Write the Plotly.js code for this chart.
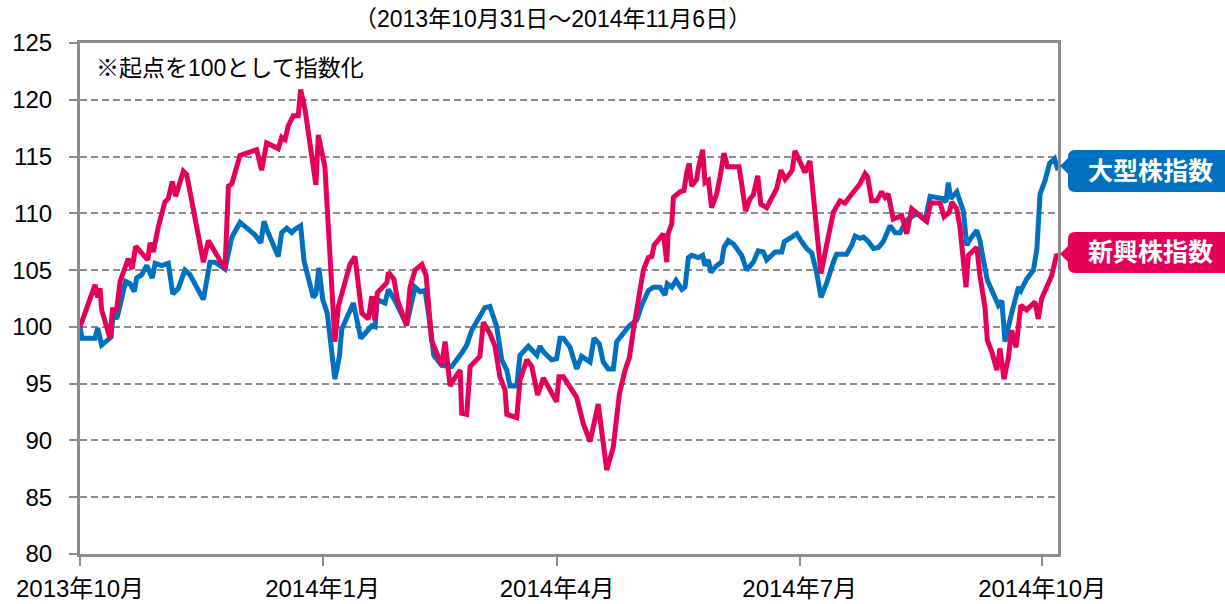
<!DOCTYPE html>
<html>
<head>
<meta charset="utf-8">
<script src="https://cdn.plot.ly/plotly-3.0.1.min.js"></script>
<style>html,body{margin:0;padding:0;background:#ffffff;}</style>
</head>
<body>
<div id="chart" style="width:1225px;height:604px;"></div>
<script>
// ---- Data (x = days since 2013-10-31, y = index, start = 100) ----
const periodTitle = '（2013年10月31日～2014年11月6日）';
const noteText = '※起点を100として指数化';
const seriesNames = ['大型株指数', '新興株指数'];
const tickDays = [0, 92, 181, 273, 365];
const tickLabels = ['2013年10月', '2014年1月', '2014年4月', '2014年7月', '2014年10月'];

const largeCap = [
  [0,100.0],[0.8,99.0],[5.7,99.0],[6.7,99.9],[8.2,98.4],[10.1,98.8],[11.8,99.1],[12.6,101.2],[13.9,100.7],[14.8,101.5],
  [17.3,104.0],[19.0,103.8],[20.6,103.1],[21.5,104.3],[23.4,104.6],[25.3,105.4],[27.4,104.3],[28.5,105.6],[31.0,105.4],[33.5,105.6],
  [35.2,102.9],[37.3,103.4],[39.8,105.0],[41.7,104.6],[46.8,102.4],[49.3,105.7],[51.2,105.7],[55.0,105.1],[57.6,107.9],[60.7,109.2],
  [66.4,108.1],[68.6,107.4],[69.8,109.3],[70.8,108.6],[75.2,106.2],[76.5,108.3],[78.4,108.7],[80.3,108.3],[81.6,108.6],[83.7,108.9],
  [85.0,105.8],[88.5,102.6],[89.5,102.9],[90.6,105.2],[92.1,102.4],[93.8,101.2],[96.7,95.4],[98.4,97.4],[99.3,99.8],[103.7,102.1],
  [106.5,99.0],[110.7,100.1],[111.9,100.0],[112.8,102.4],[115.7,102.1],[117.0,103.3],[119.5,102.3],[123.9,100.2],[125.2,101.5],[127.1,103.5],
  [129.0,103.1],[130.9,103.2],[132.2,101.2],[134.2,97.5],[137.2,96.6],[141.0,96.5],[144.8,97.7],[146.7,98.4],[148.6,99.7],[151.1,100.6],
  [153.6,101.7],[155.5,101.8],[158.1,100.0],[160.0,97.1],[161.9,96.2],[163.1,94.8],[165.7,94.8],[166.9,97.5],[170.1,98.3],[173.3,97.5],
  [174.5,98.3],[175.8,97.8],[178.9,97.1],[180.8,97.2],[182.1,99.0],[183.4,99.0],[185.9,98.2],[188.4,96.3],[190.3,97.4],[193.5,96.9],
  [195.0,99.0],[197.0,98.5],[198.5,96.9],[200.4,96.3],[202.3,96.3],[203.6,98.7],[206.1,99.4],[208.4,100.1],[211.2,100.6],[213.1,101.9],
  [215.6,103.2],[217.5,103.5],[220.0,103.5],[221.9,102.8],[222.8,103.8],[224.5,103.5],[226.1,104.1],[228.3,103.3],[229.5,103.5],[230.8,106.1],
  [232.0,106.3],[234.6,106.1],[236.2,106.3],[237.1,105.4],[238.4,105.9],[239.3,104.8],[241.5,105.4],[243.4,105.7],[244.3,107.0],[245.9,107.6],
  [247.9,107.3],[251.0,106.3],[252.9,105.0],[255.4,105.7],[257.3,106.7],[259.2,106.6],[260.5,105.9],[263.7,106.6],[266.2,106.6],[267.2,107.5],
  [270.0,107.9],[271.9,108.2],[273.8,107.5],[275.7,106.9],[277.6,106.5],[279.5,104.7],[281.1,102.6],[283.3,103.9],[285.8,105.7],[287.0,106.4],
  [290.8,106.4],[292.8,107.2],[294.0,108.0],[295.9,107.8],[297.2,107.9],[299.1,107.5],[301.0,106.9],[302.9,107.0],[304.7,107.5],[307.3,108.9],
  [309.2,108.3],[311.1,108.3],[313.6,109.4],[317.4,110.0],[320.6,109.4],[322.5,111.5],[327.3,111.3],[328.5,111.0],[329.4,112.7],[330.3,111.3],
  [332.6,111.9],[335.1,110.2],[336.4,107.2],[337.9,107.8],[340.2,108.5],[341.4,107.6],[342.6,106.0],[344.2,104.1],[346.5,102.9],[348.4,101.9],
  [349.7,102.3],[350.9,98.7],[353.4,101.2],[355.1,102.6],[356.0,103.5],[356.9,103.2],[359.1,104.2],[361.7,105.0],[363.0,106.9],[364.2,111.7],
  [366.1,112.9],[367.8,114.4],[369.7,114.8],[371.0,113.8]
];

const emerging = [
  [0,100.0],[5.7,103.7],[6.7,102.6],[7.6,103.4],[8.2,101.5],[11.4,99.0],[12.3,101.5],[13.9,101.5],[15.2,104.0],[18.3,106.0],
  [19.8,105.1],[21.1,107.1],[25.7,105.9],[26.6,107.4],[27.8,106.6],[29.7,108.8],[32.2,111.0],[33.5,111.3],[35.0,112.8],[36.3,111.5],
  [39.2,113.7],[40.5,113.4],[46.8,105.7],[48.7,107.6],[55.0,105.1],[56.3,112.4],[57.6,112.6],[60.7,115.1],[67.0,115.6],[68.9,113.8],
  [70.8,116.2],[75.2,115.7],[76.5,116.7],[77.8,116.5],[79.0,117.7],[80.9,118.6],[82.8,118.6],[83.7,120.9],[85.4,119.1],[89.5,112.5],
  [90.4,116.9],[92.9,114.1],[96.7,98.7],[98.0,101.8],[102.4,105.5],[104.3,106.2],[106.9,101.2],[109.4,100.7],[110.7,102.7],[111.9,100.6],
  [112.8,103.0],[116.4,103.9],[117.0,104.8],[119.1,104.2],[120.4,102.4],[123.9,100.1],[125.2,103.5],[127.1,105.0],[129.7,105.5],[131.3,104.5],
  [133.4,98.8],[135.3,97.8],[137.2,96.6],[138.5,98.7],[140.4,94.8],[141.6,95.3],[144.2,96.2],[144.8,92.4],[146.7,92.3],[148.0,96.5],
  [150.5,97.1],[151.7,97.4],[153.0,100.4],[155.5,99.4],[157.4,98.3],[159.3,95.6],[161.2,94.5],[161.9,92.3],[165.7,92.0],[166.9,95.3],
  [169.5,97.1],[171.4,96.5],[173.6,94.0],[175.8,95.5],[178.9,94.2],[180.8,93.4],[181.7,95.6],[183.4,95.6],[185.9,94.7],[188.4,93.8],
  [190.9,91.5],[193.5,89.9],[196.6,93.2],[199.8,87.4],[202.3,89.4],[204.6,94.1],[206.8,96.2],[208.4,97.3],[209.9,99.7],[211.8,102.6],
  [213.7,105.0],[215.6,106.1],[216.9,106.2],[217.8,107.2],[219.0,107.5],[221.3,108.2],[222.6,105.7],[223.1,108.2],[224.5,109.1],[225.1,111.4],
  [227.6,111.9],[229.1,112.0],[230.2,113.6],[231.1,114.4],[232.0,112.4],[233.9,113.0],[234.5,113.9],[236.2,115.6],[237.1,112.7],[238.4,112.9],
  [239.6,110.5],[241.5,111.7],[242.8,113.2],[244.3,115.3],[245.6,114.1],[250.0,114.1],[251.0,112.6],[252.5,110.2],[254.2,111.3],[255.4,111.6],
  [257.1,113.3],[258.3,110.8],[260.5,110.5],[262.4,111.3],[264.3,112.2],[265.9,113.8],[267.5,113.0],[269.3,113.5],[270.2,113.8],[271.2,115.5],
  [273.1,114.6],[275.0,113.6],[276.9,114.6],[278.8,110.5],[281.1,104.7],[283.3,107.3],[285.8,110.1],[288.3,111.1],[290.2,110.9],[292.8,111.7],
  [294.0,112.0],[295.9,112.6],[297.8,113.5],[298.8,113.2],[300.3,111.1],[302.2,111.1],[304.1,111.9],[305.4,111.4],[306.6,111.7],[308.5,109.5],
  [311.7,109.8],[313.6,108.2],[315.5,110.4],[318.7,109.8],[321.2,109.3],[322.7,110.9],[326.3,110.9],[327.8,109.7],[329.8,110.1],[330.7,111.0],
  [332.6,110.4],[333.8,108.8],[335.1,106.1],[336.1,103.5],[337.0,106.3],[340.2,107.0],[341.4,104.5],[343.3,101.7],[344.2,98.8],[345.9,97.8],
  [347.8,96.2],[349.0,98.1],[350.5,95.4],[352.2,97.3],[353.4,99.7],[355.1,98.2],[356.9,101.9],[359.1,101.5],[362.3,102.2],[363.5,100.7],
  [364.8,102.5],[366.7,103.5],[368.6,104.5],[370.5,106.4],[371.0,106.2]
];

// ---- Styles ----
const BLUE = '#0070C0';
const PINK = '#E5005A';
const GRAY = '#8c8c8c';
const FONT = "Arial, 'Liberation Sans', 'Noto Sans CJK JP', sans-serif";

// pixel -> paper helpers for decorations (plot area 80..1058 x 43..554)
const PL = 80, PR = 1058, PT = 43, PB = 554;
const px = x => (x - PL) / (PR - PL);
const py = y => (PB - y) / (PB - PT);

function roundRect(x0, y0, x1, y1, r) {
  const P = (x, y) => px(x).toFixed(5) + ',' + py(y).toFixed(5);
  return 'M' + P(x0 + r, y0) + ' L' + P(x1 - r, y0) + ' Q' + P(x1, y0) + ' ' + P(x1, y0 + r) +
         ' L' + P(x1, y1 - r) + ' Q' + P(x1, y1) + ' ' + P(x1 - r, y1) +
         ' L' + P(x0 + r, y1) + ' Q' + P(x0, y1) + ' ' + P(x0, y1 - r) +
         ' L' + P(x0, y0 + r) + ' Q' + P(x0, y0) + ' ' + P(x0 + r, y0) + ' Z';
}
function tail(xTip, yMid, xBase, half) {
  const P = (x, y) => px(x).toFixed(5) + ',' + py(y).toFixed(5);
  return 'M' + P(xBase, yMid - half) + ' L' + P(xTip, yMid) + ' L' + P(xBase, yMid + half) + ' Z';
}

const traces = [
  {
    x: largeCap.map(p => p[0]), y: largeCap.map(p => p[1]),
    name: seriesNames[0], type: 'scatter', mode: 'lines',
    line: {color: BLUE, width: 5}, hoverinfo: 'skip'
  },
  {
    x: emerging.map(p => p[0]), y: emerging.map(p => p[1]),
    name: seriesNames[1], type: 'scatter', mode: 'lines',
    line: {color: PINK, width: 5}, hoverinfo: 'skip'
  }
];

const layout = {
  width: 1225, height: 604,
  margin: {l: PL, r: 1225 - PR, t: PT, b: 604 - PB, pad: 0},
  paper_bgcolor: '#ffffff', plot_bgcolor: '#ffffff',
  showlegend: false,
  font: {family: FONT, color: '#000000'},
  xaxis: {
    range: [0, 371], tickmode: 'array', tickvals: tickDays, ticktext: tickLabels,
    showgrid: false, zeroline: false,
    showline: true, linecolor: GRAY, linewidth: 3, mirror: true,
    ticks: 'outside', ticklen: 9, tickwidth: 2, tickcolor: GRAY,
    tickfont: {family: FONT, size: 24, color: '#000000'},
    ticklabelstandoff: 2, fixedrange: true
  },
  yaxis: {
    range: [80, 125], dtick: 5, tick0: 80,
    showgrid: true, gridcolor: GRAY, gridwidth: 2, griddash: '7px,4px',
    zeroline: false,
    showline: true, linecolor: GRAY, linewidth: 3, mirror: true,
    ticks: 'outside', ticklen: 8, tickwidth: 2, tickcolor: GRAY,
    tickfont: {family: FONT, size: 24, color: '#000000'},
    ticklabelstandoff: 12, fixedrange: true
  },
  shapes: [
    {type: 'path', xref: 'paper', yref: 'paper', path: roundRect(1068, 150, 1240, 192, 7), fillcolor: BLUE, line: {width: 0}, layer: 'above'},
    {type: 'path', xref: 'paper', yref: 'paper', path: tail(1060, 166, 1069, 9), fillcolor: BLUE, line: {width: 0}, layer: 'above'},
    {type: 'path', xref: 'paper', yref: 'paper', path: roundRect(1068, 232, 1240, 273, 7), fillcolor: PINK, line: {width: 0}, layer: 'above'},
    {type: 'path', xref: 'paper', yref: 'paper', path: tail(1060, 254, 1069, 9), fillcolor: PINK, line: {width: 0}, layer: 'above'}
  ],
  annotations: [
    {text: periodTitle, xref: 'paper', yref: 'paper', x: px(552), y: py(19), xanchor: 'center', yanchor: 'middle',
     showarrow: false, font: {family: FONT, size: 23, color: '#000000'}},
    {text: noteText, xref: 'paper', yref: 'paper', x: px(94), y: py(68), xanchor: 'left', yanchor: 'middle',
     showarrow: false, font: {family: FONT, size: 23, color: '#000000'}},
    {text: seriesNames[0], xref: 'paper', yref: 'paper', x: px(1150), y: py(171), xanchor: 'center', yanchor: 'middle',
     showarrow: false, font: {family: FONT, size: 25, color: '#ffffff', weight: 'bold'}},
    {text: seriesNames[1], xref: 'paper', yref: 'paper', x: px(1150), y: py(252), xanchor: 'center', yanchor: 'middle',
     showarrow: false, font: {family: FONT, size: 25, color: '#ffffff', weight: 'bold'}}
  ]
};

Plotly.newPlot('chart', traces, layout, {displayModeBar: false, staticPlot: true});
</script>
</body>
</html>
